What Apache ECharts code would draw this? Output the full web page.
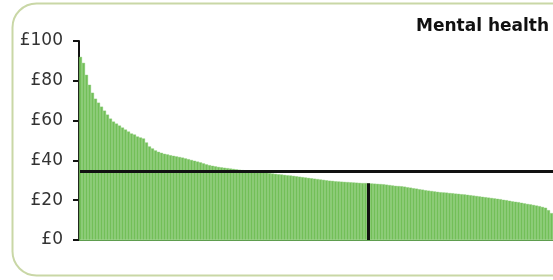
<!DOCTYPE html>
<html>
<head>
<meta charset="utf-8">
<script src="https://cdn.jsdelivr.net/npm/echarts@6/dist/echarts.min.js"></script>
<style>
  html, body { margin: 0; padding: 0; background: #fff; }
  #chart { width: 553px; height: 280px; }
</style>
</head>
<body>
<div id="chart"></div>
<script>
// spend per head, sorted high to low
const spend = [
  92, 89, 83, 78, 74, 71, 69, 67, 65, 63,
  61, 59.5, 58.5, 57.5, 56.5, 55.5, 54.5, 53.5, 53, 52,
  51.5, 51, 49, 47, 46, 45, 44.3, 43.8, 43.3, 43,
  42.6, 42.3, 42, 41.7, 41.4, 41, 40.6, 40.2, 39.8, 39.4,
  39, 38.5, 38, 37.6, 37.3, 37, 36.7, 36.5, 36.3, 36.1,
  35.9, 35.7, 35.5, 35.3, 35.1, 34.9, 34.7, 34.5, 34.3, 34.2,
  34, 33.9, 33.8, 33.6, 33.4, 33.2, 33, 32.9, 32.7, 32.5,
  32.4, 32.2, 32, 31.8, 31.6, 31.4, 31.2, 31, 30.8, 30.6,
  30.4, 30.2, 30, 29.8, 29.7, 29.5, 29.4, 29.3, 29.2, 29.1,
  29, 28.9, 28.8, 28.7, 28.6, 28.6, 28.5, 28.4, 28.3, 28.2,
  28.1, 28, 27.8, 27.6, 27.4, 27.2, 27.1, 27, 26.8, 26.5,
  26.3, 26, 25.8, 25.5, 25.3, 25, 24.8, 24.6, 24.4, 24.2,
  24, 23.9, 23.8, 23.6, 23.5, 23.3, 23.2, 23, 22.9, 22.7,
  22.5, 22.3, 22.1, 21.9, 21.7, 21.5, 21.3, 21.1, 20.9, 20.7,
  20.5, 20.2, 20, 19.7, 19.4, 19.2, 19, 18.7, 18.4, 18.1,
  17.9, 17.6, 17.3, 17, 16.6, 16.2, 15, 13.5
];
const areas = spend.map((v, i) => 'Area ' + (i + 1));
const averageSpend = 34.7;
const medianIndex = 96;
const yTicks = [0, 20, 40, 60, 80, 100];

const chart = echarts.init(document.getElementById('chart'));

const option = {
  backgroundColor: '#fff',
  animation: false,
  title: {
    text: 'Mental health',
    left: 411,
    top: 13,
    textStyle: {
      fontFamily: 'DejaVu Sans',
      fontSize: 17,
      fontWeight: 'bold',
      color: '#111'
    }
  },
  graphic: [
    {
      type: 'rect',
      shape: { x: 12.5, y: 3.5, width: 620, height: 272, r: 24 },
      style: { fill: 'none', stroke: '#c9d7a6', lineWidth: 2 },
      silent: true
    }
  ],
  grid: { left: 79, right: 0, top: 41, bottom: 40 },
  xAxis: {
    type: 'category',
    data: areas,
    axisLine: { show: true, lineStyle: { color: '#5a984a', width: 1 } },
    axisTick: { show: false },
    axisLabel: { show: false }
  },
  yAxis: {
    type: 'value',
    min: yTicks[0],
    max: yTicks[yTicks.length - 1],
    interval: 20,
    splitLine: { show: false },
    axisLine: { show: true, lineStyle: { color: '#111', width: 2 } },
    axisTick: { show: true, length: 6, lineStyle: { color: '#111', width: 2 } },
    axisLabel: {
      formatter: '£{value}',
      fontFamily: 'DejaVu Sans',
      fontSize: 17,
      color: '#333',
      margin: 16
    }
  },
  series: [
    {
      name: 'Spend',
      type: 'bar',
      data: spend,
      barCategoryGap: '0%',
      itemStyle: { color: '#72bf58', borderColor: '#8ccd76', borderWidth: 0.4 },
      markLine: {
        silent: true,
        symbol: 'none',
        label: { show: false },
        data: [
          [
            { coord: [0, averageSpend], x: 80 },
            { coord: [spend.length - 1, averageSpend], x: 553 }
          ],
          [
            { coord: [medianIndex, 0] },
            { coord: [medianIndex, spend[medianIndex]] }
          ]
        ],
        lineStyle: { color: '#111', width: 3, type: 'solid' }
      }
    }
  ]
};

chart.setOption(option);
</script>
</body>
</html>
